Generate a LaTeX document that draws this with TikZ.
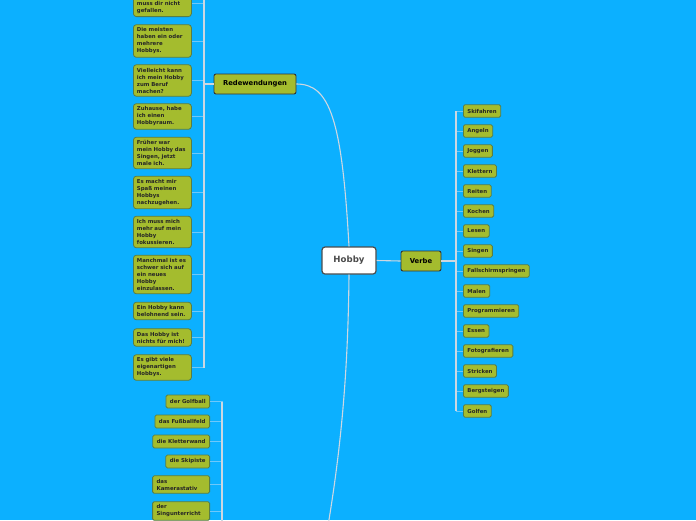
\documentclass[tikz,border=0pt]{standalone}
\usepackage{fontspec}
\setmainfont{DejaVu Sans}
\definecolor{bg}{RGB}{12,176,255}
\definecolor{leaf}{RGB}{164,188,46}
\definecolor{leafborder}{RGB}{88,125,70}
\definecolor{trunkc}{RGB}{205,215,225}
\definecolor{tickc}{RGB}{110,200,250}
\definecolor{hobbytext}{RGB}{75,75,75}
\tikzset{
  leafbase/.style={draw=leafborder, fill=leaf, line width=0.8pt, text=black!85,
    font=\fontsize{5.4}{7}\selectfont\bfseries},
  leafR/.style={leafbase, rounded corners=1.5pt, inner xsep=4pt, inner ysep=0pt,
    minimum height=12.5pt, anchor=west},
  leafL/.style={leafbase, rounded corners=3pt, text width=51pt, align=left,
    inner xsep=3.5pt, inner ysep=3.2pt},
  leafB/.style={leafbase, rounded corners=1.5pt, align=left, inner xsep=4pt,
    inner ysep=3.2pt, minimum height=13pt, anchor=east},
  mainbranch/.style={draw=black!80, fill=leaf, line width=0.9pt, rounded corners=2pt,
    text=black, font=\fontsize{6.8}{8}\selectfont\bfseries, minimum height=20pt},
  rootnode/.style={draw=black!70, fill=white, line width=1.2pt, rounded corners=3pt,
    minimum width=54pt, minimum height=27pt, text=hobbytext,
    font=\fontsize{8.6}{10}\selectfont\bfseries},
  trunk/.style={draw=trunkc, line width=1.1pt},
  tick/.style={draw=tickc, line width=0.7pt},
}
\begin{document}
\begin{tikzpicture}[x=1pt,y=-1pt]
\useasboundingbox (0,0) rectangle (696,520);
\fill[bg] (0,0) rectangle (696,520);
\clip (0,0) rectangle (696,520);

% root and main branches
\node[rootnode] (hobby) at (349,260.5) {Hobby};
\node[mainbranch, minimum width=40pt] (verbe) at (421,261) {Verbe};
\node[mainbranch, minimum width=82pt] (rede) at (255,84) {Redewendungen};
\coordinate (bottomparent) at (318,580);

\draw[trunk] (hobby.east) -- (verbe.west);
\draw[trunk] (rede.east) .. controls (330,84) and (342,120) .. (hobby.north);
\draw[trunk] (hobby.south) .. controls (348,380) and (340,470) .. (bottomparent);

% Verbe children
\coordinate (vj) at (456,261);
\foreach \t [count=\i] in {Skifahren,Angeln,Joggen,Klettern,Reiten,Kochen,Lesen,Singen,
  Fallschirmspringen,Malen,Programmieren,Essen,Fotografieren,Stricken,Bergsteigen,Golfen}{
  \node[leafR] (v\i) at (463,91+20*\i) {\t};
  \draw[tick] (vj) |- (v\i.west);
}
\draw[trunk] (verbe.east) -- (vj);
\draw[trunk] (v1.west -| vj) -- (v16.west -| vj);

% Redewendungen children
\coordinate (rj) at (204,84);
\coordinate (rtop) at (204,-10);
\node[leafL, anchor=south west] (r1) at (133,17) {Mein Hobby\\muss dir nicht\\gefallen.};
\node[leafL, anchor=west] (r2) at (133,41) {Die meisten\\haben ein oder\\mehrere\\Hobbys.};
\node[leafL, anchor=west] (r3) at (133,80.5) {Vielleicht kann\\ich mein Hobby\\zum Beruf\\machen?};
\node[leafL, anchor=west] (r4) at (133,116.5) {Zuhause, habe\\ich einen\\Hobbyraum.};
\node[leafL, anchor=west] (r5) at (133,153) {Früher war\\mein Hobby das\\Singen, jetzt\\male ich.};
\node[leafL, anchor=west] (r6) at (133,192.5) {Es macht mir\\Spaß meinen\\Hobbys\\nachzugehen.};
\node[leafL, anchor=west] (r7) at (133,232) {Ich muss mich\\mehr auf mein\\Hobby\\fokussieren.};
\node[leafL, anchor=west] (r8) at (133,274.5) {Manchmal ist es\\schwer sich auf\\ein neues\\Hobby\\einzulassen.};
\node[leafL, anchor=west] (r9) at (133,311) {Ein Hobby kann\\belohnend sein.};
\node[leafL, anchor=west] (r10) at (133,337.5) {Das Hobby ist\\nichts für mich!};
\node[leafL, anchor=west] (r11) at (133,367.5) {Es gibt viele\\eigenartigen\\Hobbys.};
\foreach \i in {1,...,11}{
  \draw[tick] (rj) |- (r\i.east);
}
\draw[trunk] (rtop) -- (r11.east -| rj);
\draw[trunk] (rede.west) -- (rj);

% bottom-left group (parent below the picture)
\coordinate (bj) at (222,580);
\node[leafB] (b1) at (210,401.5) {der Golfball};
\node[leafB] (b2) at (210,421.5) {das Fußballfeld};
\node[leafB] (b3) at (210,441.5) {die Kletterwand};
\node[leafB] (b4) at (210,461.5) {die Skipiste};
\node[leafB, text width=49pt] (b5) at (210,484.5) {das\\Kamerastativ};
\node[leafB, text width=49pt] (b6) at (210,511) {der\\Singunterricht};
\foreach \i in {1,...,6}{
  \draw[tick] (bj) |- (b\i.east);
}
\draw[trunk] (bj) -- (b1.east -| bj);
\end{tikzpicture}
\end{document}
